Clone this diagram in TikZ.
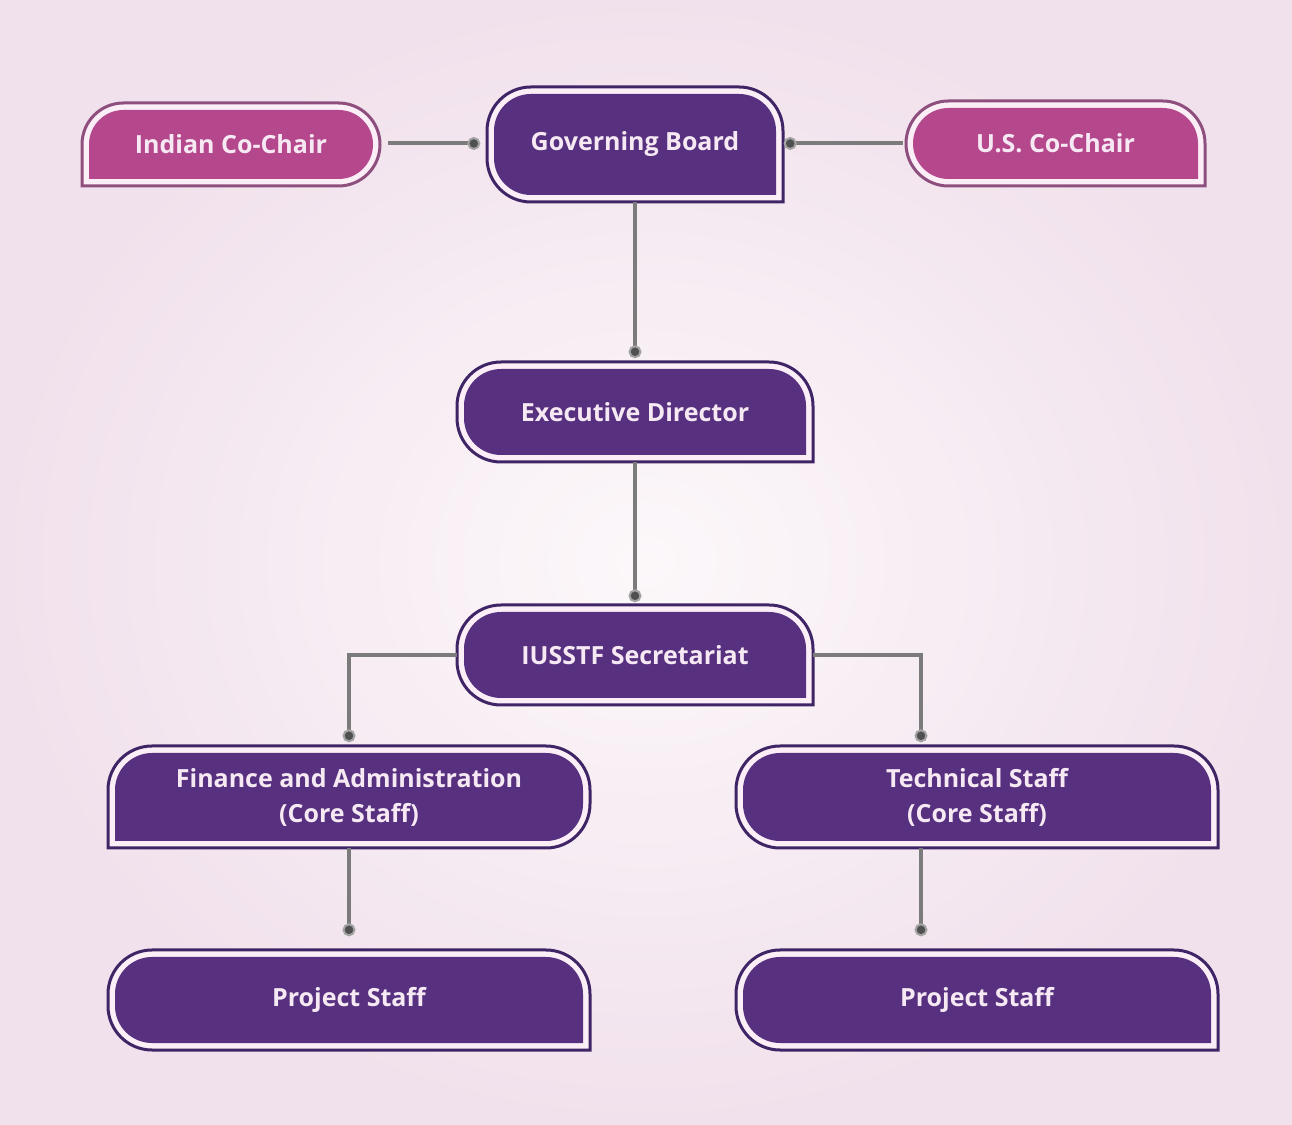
\documentclass[tikz,border=0pt]{standalone}
\usepackage{fontspec}
\setmainfont{Open Sans}
\usetikzlibrary{calc}
\definecolor{bgin}{HTML}{FCF8FA}
\definecolor{bgout}{HTML}{F1E1EC}
\definecolor{purfill}{HTML}{573180}
\definecolor{purline}{HTML}{3F2566}
\definecolor{pinkfill}{HTML}{B5488C}
\definecolor{pinkline}{HTML}{8E4F7E}
\definecolor{gapcol}{HTML}{FBEEF7}
\definecolor{txtcol}{HTML}{F6E9F3}
\definecolor{linkcol}{HTML}{7B7B7B}
\definecolor{dotcol}{HTML}{505050}
\tikzset{
  boxlabel/.style={rectangle, inner sep=0pt, align=center, text=txtcol,
    font=\bfseries\fontsize{25}{35}\selectfont},
  link/.style={draw=linkcol, line width=4pt},
  enddot/.style={circle, inner sep=0pt, minimum size=11pt, fill=dotcol,
    draw=linkcol!70, line width=2pt},
}
% shape: #1 type (A or B), #2 inset, #3 radius, #4 path options
\newcommand\orgshape[4]{%
  \pgfmathsetmacro\sL{\bxL+#2}\pgfmathsetmacro\sR{\bxR-#2}%
  \pgfmathsetmacro\sT{\bxT-#2}\pgfmathsetmacro\sB{\bxB+#2}%
  \pgfmathsetmacro\sRad{#3}%
  \if#1A%
    \path[#4] (\sR,\sB) -- (\sL+\sRad,\sB)
      arc[start angle=270,end angle=180,radius=\sRad] -- (\sL,\sT-\sRad)
      arc[start angle=180,end angle=90,radius=\sRad] -- (\sR-\sRad,\sT)
      arc[start angle=90,end angle=0,radius=\sRad] -- cycle;
  \else
    \path[#4] (\sL,\sB) -- (\sL,\sT-\sRad)
      arc[start angle=180,end angle=90,radius=\sRad] -- (\sR-\sRad,\sT)
      arc[start angle=90,end angle=0,radius=\sRad] -- (\sR,\sB+\sRad)
      arc[start angle=0,end angle=-90,radius=\sRad] -- cycle;
  \fi
}
% box: #1 name, #2 left, #3 top, #4 right, #5 bottom (pixel coords), #6 type,
% #7 fill colour, #8 outline colour, #9 text
\newcommand\orgbox[9]{%
  \pgfmathsetmacro\bxL{#2}\pgfmathsetmacro\bxR{#4}%
  \pgfmathsetmacro\bxT{1124-#3}\pgfmathsetmacro\bxB{1124-#5}%
  \pgfmathsetmacro\bxW{#4-#2}\pgfmathsetmacro\bxH{#5-#3}%
  \pgfmathsetmacro\bxRad{min(44,(\bxT-\bxB)/2)}%
  \orgshape{#6}{0}{\bxRad}{fill=gapcol, draw=#8, line width=3pt}%
  \orgshape{#6}{7}{\bxRad-7}{fill=#7}%
  \node[boxlabel, minimum width=\bxW pt, minimum height=\bxH pt] (#1)
    at ({(#2+#4)/2},{1124-(#3+#5)/2}) {#9};
}
\begin{document}
\begin{tikzpicture}[x=1pt,y=1pt]
  \useasboundingbox (0,0) rectangle (1292,1124);
  \shade[inner color=bgin, outer color=bgout] (0,0) rectangle (1292,1124);
  % boxes
  \orgbox{ic}{82}{103}{380}{186}{B}{pinkfill}{pinkline}{Indian Co-Chair}
  \orgbox{gb}{487}{87}{783}{202}{A}{purfill}{purline}{Governing Board}
  \orgbox{us}{906}{101}{1205}{186}{A}{pinkfill}{pinkline}{U.S. Co-Chair}
  \orgbox{ed}{457}{362}{813}{462}{A}{purfill}{purline}{Executive Director}
  \orgbox{sec}{457}{605}{813}{705}{A}{purfill}{purline}{IUSSTF Secretariat}
  \orgbox{fin}{108}{746}{590}{848}{B}{purfill}{purline}{Finance and Administration\\(Core Staff)}
  \orgbox{tech}{736}{746}{1218}{848}{A}{purfill}{purline}{Technical Staff\\(Core Staff)}
  \orgbox{ps1}{108}{950}{590}{1050}{A}{purfill}{purline}{Project Staff}
  \orgbox{ps2}{736}{950}{1218}{1050}{A}{purfill}{purline}{Project Staff}
  % connectors
  \draw[link] ($(ic.east)+(8,1)$) -- ($(ic.east -| gb.west)+(-13,1)$) node[enddot] (d1) {};
  \draw[link] ($(us.west)+(-3,0)$) -- ($(us.west -| gb.east)+(7,0)$) node[enddot] (d2) {};
  \draw[link] (gb.south) -- ($(ed.north)+(0,10)$) node[enddot] (d3) {};
  \draw[link] (ed.south) -- ($(sec.north)+(0,9)$) node[enddot] (d4) {};
  \draw[link] (sec.west) -| ($(fin.north)+(0,10)$) node[enddot] (d5) {};
  \draw[link] (sec.east) -| ($(tech.north)+(-56,10)$) node[enddot] (d6) {};
  \draw[link] (fin.south) -- ($(ps1.north)+(0,20)$) node[enddot] (d7) {};
  \draw[link] ($(tech.south)+(-56,0)$) -- ($(ps2.north)+(-56,20)$) node[enddot] (d8) {};
\end{tikzpicture}
\end{document}
